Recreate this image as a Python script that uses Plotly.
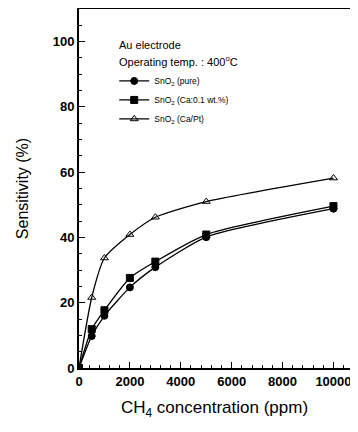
import plotly.graph_objects as go

conc = [0, 500, 1000, 2000, 3000, 5000, 10000]
pure = [0, 9.8, 16, 24.7, 30.9, 40.1, 48.8]
ca01 = [0, 11.9, 17.7, 27.6, 32.6, 40.9, 49.6]
capt = [0, 21.6, 33.7, 40.9, 46.2, 51, 58.2]

x_ticks = [0, 2000, 4000, 6000, 8000, 10000]
y_ticks = [0, 20, 40, 60, 80, 100]

names = ["SnO<sub>2</sub> (pure)", "SnO<sub>2</sub> (Ca:0.1 wt.%)", "SnO<sub>2</sub> (Ca/Pt)"]
symbols = ["circle", "square", "triangle-up-open"]
series = [pure, ca01, capt]

fig = go.Figure()
for nm, sym, ys in zip(names, symbols, series):
    fig.add_trace(go.Scatter(
        x=conc, y=ys, name=nm, mode="lines+markers",
        line=dict(color="black", width=1.3, shape="spline", smoothing=0.6),
        marker=dict(symbol=sym, size=7, color="black", line=dict(color="black", width=1)),
    ))

font = "Liberation Sans, Arial, sans-serif"
# page body has an 8px default margin, so the figure is 8px smaller
fig.update_layout(
    width=350, height=424,
    margin=dict(l=71, r=8, t=1, b=64),
    paper_bgcolor="white", plot_bgcolor="white",
    font=dict(family=font, color="black"),
    showlegend=True,
    legend=dict(x=0.13, y=0.84, xanchor="left", yanchor="top",
                font=dict(size=8.5, family=font), itemwidth=30,
                bgcolor="rgba(0,0,0,0)", tracegroupgap=0),
    annotations=[
        dict(text="Au electrode", x=0.14, y=0.9, xref="paper", yref="paper",
             xanchor="left", yanchor="middle", showarrow=False, font=dict(size=11)),
        dict(text="Operating temp. : 400<sup>o</sup>C", x=0.14, y=0.855, xref="paper", yref="paper",
             xanchor="left", yanchor="middle", showarrow=False, font=dict(size=11)),
    ],
)
fig.update_xaxes(
    range=[0, 10650], tickvals=x_ticks, ticktext=[f"<b>{v}</b>" for v in x_ticks],
    ticks="inside", ticklen=6, tickwidth=1, tickcolor="black",
    minor=dict(dtick=400, ticks="inside", ticklen=3, tickcolor="black"),
    showline=True, linecolor="black", linewidth=2, mirror=True,
    showgrid=False, zeroline=False, automargin=False,
    tickfont=dict(size=13, family=font),
    title=dict(text="CH<sub>4</sub> concentration (ppm)", font=dict(size=17), standoff=14),
)
fig.update_yaxes(
    range=[0, 110], tickvals=y_ticks, ticktext=[f"<b>{v}</b>" for v in y_ticks],
    ticks="inside", ticklen=6, tickwidth=1, tickcolor="black",
    minor=dict(dtick=5, ticks="inside", ticklen=3, tickcolor="black"),
    showline=True, linecolor="black", linewidth=2, mirror=True,
    showgrid=False, zeroline=False, automargin=False,
    tickfont=dict(size=13, family=font),
    title=dict(text="Sensitivity (%)", font=dict(size=16), standoff=20),
)
fig.write_html("out.html")
